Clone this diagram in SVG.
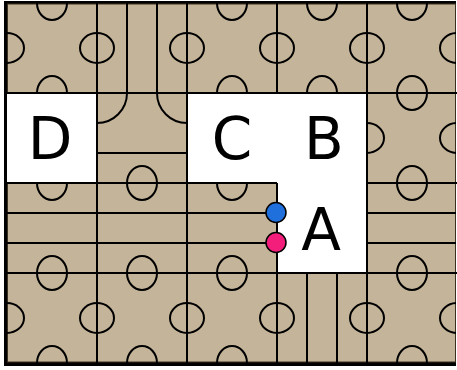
<svg xmlns="http://www.w3.org/2000/svg" width="457" height="370" viewBox="0 0 457 370">
<style>
.ln{stroke:#000;stroke-width:2;fill:none;stroke-linecap:butt}
.el{stroke:#000;stroke-width:2;fill:none}
.wh{fill:#fff;stroke:none}
.lbl{font-family:"DejaVu Sans",sans-serif;font-size:58px;fill:#000;text-anchor:middle}
.dot{stroke:#000;stroke-width:1.5}
</style>
<defs>
<clipPath id="board"><rect x="7" y="3" width="449" height="360"/></clipPath>
</defs>
<rect x="4" y="1" width="452" height="365" fill="#000"/>
<rect x="7.5" y="4" width="448" height="358" fill="#c4b499" stroke="#3b2f1d" stroke-width="1"/>
<g id="pattern" clip-path="url(#board)">
<g id="bumps-h">
<ellipse class="el" cx="52" cy="3" rx="15" ry="17"/>
<ellipse class="el" cx="232" cy="3" rx="15" ry="17"/>
<ellipse class="el" cx="322" cy="3" rx="15" ry="17"/>
<ellipse class="el" cx="412" cy="3" rx="15" ry="17"/>
<ellipse class="el" cx="52" cy="93" rx="15" ry="17"/>
<ellipse class="el" cx="232" cy="93" rx="15" ry="17"/>
<ellipse class="el" cx="322" cy="93" rx="15" ry="17"/>
<ellipse class="el" cx="412" cy="93" rx="15" ry="17"/>
<ellipse class="el" cx="52" cy="183" rx="15" ry="17"/>
<ellipse class="el" cx="142" cy="183" rx="15" ry="17"/>
<ellipse class="el" cx="232" cy="183" rx="15" ry="17"/>
<ellipse class="el" cx="412" cy="183" rx="15" ry="17"/>
<ellipse class="el" cx="52" cy="273" rx="15" ry="17"/>
<ellipse class="el" cx="142" cy="273" rx="15" ry="17"/>
<ellipse class="el" cx="232" cy="273" rx="15" ry="17"/>
<ellipse class="el" cx="412" cy="273" rx="15" ry="17"/>
<ellipse class="el" cx="52" cy="363" rx="15" ry="17"/>
<ellipse class="el" cx="142" cy="363" rx="15" ry="17"/>
<ellipse class="el" cx="232" cy="363" rx="15" ry="17"/>
<ellipse class="el" cx="412" cy="363" rx="15" ry="17"/>
</g>
<g id="bumps-v">
<ellipse class="el" cx="7" cy="48" rx="17" ry="15"/>
<ellipse class="el" cx="97" cy="48" rx="17" ry="15"/>
<ellipse class="el" cx="187" cy="48" rx="17" ry="15"/>
<ellipse class="el" cx="277" cy="48" rx="17" ry="15"/>
<ellipse class="el" cx="367" cy="48" rx="17" ry="15"/>
<ellipse class="el" cx="457" cy="48" rx="17" ry="15"/>
<ellipse class="el" cx="367" cy="138" rx="17" ry="15"/>
<ellipse class="el" cx="457" cy="138" rx="17" ry="15"/>
<ellipse class="el" cx="7" cy="318" rx="17" ry="15"/>
<ellipse class="el" cx="97" cy="318" rx="17" ry="15"/>
<ellipse class="el" cx="187" cy="318" rx="17" ry="15"/>
<ellipse class="el" cx="277" cy="318" rx="17" ry="15"/>
<ellipse class="el" cx="367" cy="318" rx="17" ry="15"/>
<ellipse class="el" cx="457" cy="318" rx="17" ry="15"/>
</g>
<g id="stripes">
<path class="ln" d="M127 3V93M157 3V93"/>
<path class="ln" d="M127 93A30 30 0 0 1 97 123M157 93A30 30 0 0 0 187 123M97 153H187"/>
<path class="ln" d="M7 213H277M7 243H277M367 213H457M367 243H457"/>
<path class="ln" d="M307 273V363M337 273V363"/>
</g>
</g>
<g id="white-areas">
<rect class="wh" x="7" y="93" width="90" height="90"/>
<path class="wh" d="M187 93H367V273H277V183H187Z"/>
</g>
<g id="D"><text class="lbl" x="50" y="159">D</text></g>
<g id="C"><text class="lbl" x="232" y="159">C</text></g>
<g id="B"><text class="lbl" x="324" y="159">B</text></g>
<g id="A"><text class="lbl" x="321" y="250">A</text></g>
<g id="grid">
<path class="ln" d="M97 3V363M187 3V363M277 3V93M277 183V363M367 3V363"/>
<path class="ln" d="M7 93H457M7 183H277M367 183H457M7 273H457"/>
</g>
<g id="dots">
<circle class="dot" cx="276" cy="212.5" r="10" fill="#1f6fdc"/>
<circle class="dot" cx="276" cy="242.5" r="10" fill="#f31e7c"/>
</g>
</svg>
